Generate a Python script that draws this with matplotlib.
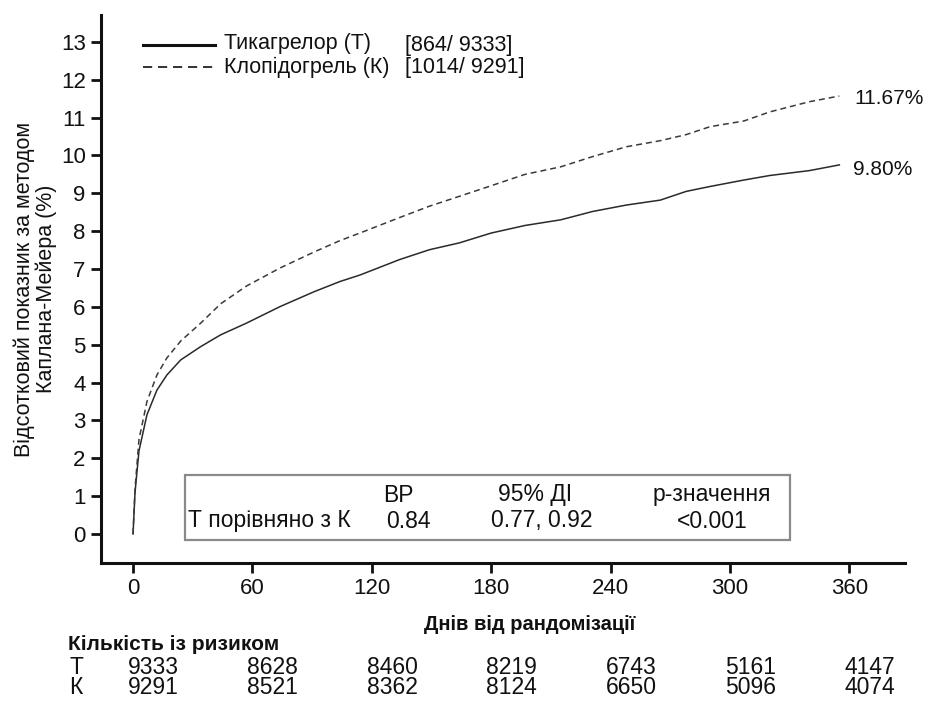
import matplotlib
matplotlib.use("Agg")
import matplotlib.pyplot as plt
from matplotlib.lines import Line2D
from matplotlib.patches import Rectangle
import matplotlib.transforms as mtransforms

plt.rcParams['font.family'] = ['Liberation Sans', 'DejaVu Sans']

# ---- data ----
days = [0, 1, 3, 7, 12, 17, 24, 34, 44, 57, 74, 91, 104, 114, 134, 149, 164,
        180, 197, 215, 231, 248, 265, 278, 290, 307, 320, 340, 355]
ticagrelor = [0, 1.1, 2.2, 3.15, 3.8, 4.2, 4.6, 4.95, 5.26, 5.57, 6.01, 6.4,
              6.67, 6.84, 7.25, 7.51, 7.69, 7.95, 8.15, 8.3, 8.52, 8.69, 8.82,
              9.05, 9.18, 9.35, 9.47, 9.6, 9.75]
clopidogrel = [0, 1.2, 2.5, 3.5, 4.2, 4.65, 5.1, 5.57, 6.08, 6.55, 7.03, 7.45,
               7.75, 7.95, 8.36, 8.66, 8.92, 9.2, 9.5, 9.7, 9.97, 10.23, 10.39,
               10.55, 10.76, 10.91, 11.15, 11.42, 11.57]
end_labels = ["9.80%", "11.67%"]
series_names = ["Тикагрелор (Т)", "Клопідогрель (К)"]
series_counts = ["[864/ 9333]", "[1014/ 9291]"]
x_ticks = [0, 60, 120, 180, 240, 300, 360]
y_ticks = list(range(0, 14))
risk_T = [9333, 8628, 8460, 8219, 6743, 5161, 4147]
risk_K = [9291, 8521, 8362, 8124, 6650, 5096, 4074]
stats_header = ["ВР", "95% ДІ", "р-значення"]
stats_row = ["Т порівняно з К", "0.84", "0.77, 0.92", "<0.001"]

W, H = 933, 704
fig = plt.figure(figsize=(W / 100, H / 100), dpi=100)
INK = '#111111'


def fx(x):
    return x / W


def fy(y):
    return 1 - y / H


ax = fig.add_axes([fx(101), fy(563), (905 - 101) / W, (563 - 15) / H])
ax.set_xlim(-16.1, 388)
ax.set_ylim(-0.766, 13.71)

ax.plot(days, ticagrelor, color='#2a2a2a', lw=1.1, ls='-')
ax.plot(days, clopidogrel, color='#3a3a3a', lw=1.1, ls=(0, (3.9, 2.6)))

for s in ['top', 'right']:
    ax.spines[s].set_visible(False)
for s in ['left', 'bottom']:
    ax.spines[s].set_linewidth(2.2)
    ax.spines[s].set_color(INK)

ax.set_xticks(x_ticks)
ax.set_yticks(y_ticks)
ax.tick_params(axis='both', direction='out', length=7, width=2.0,
               labelsize=16, colors=INK, pad=4)

ax.set_ylabel("Відсотковий показник за методом\nКаплана-Мейера (%)",
              fontsize=15.5, color=INK, labelpad=2.5, linespacing=1.05)

# end labels
ax.annotate(end_labels[0], xy=(days[-1], ticagrelor[-1]), xytext=(10, -3),
            textcoords='offset points', va='center', ha='left', fontsize=15,
            color=INK)
ax.annotate(end_labels[1], xy=(days[-1], clopidogrel[-1]), xytext=(11, -2),
            textcoords='offset points', va='center', ha='left', fontsize=15,
            color=INK)

# legend (drawn manually)
fig.add_artist(Line2D([fx(143), fx(215)], [fy(45), fy(45)], color=INK, lw=2.2,
                      transform=fig.transFigure))
fig.add_artist(Line2D([fx(143), fx(215)], [fy(67), fy(67)], color=INK, lw=1.2,
                      ls=(0, (5.5, 3.5)), transform=fig.transFigure))
fig.text(fx(224), fy(44), series_names[0], fontsize=15.5, va='center',
         ha='left', color=INK)
fig.text(fx(224), fy(67), series_names[1], fontsize=15.5, va='center',
         ha='left', color=INK)
fig.text(fx(405), fy(45), series_counts[0], fontsize=15.5, va='center',
         ha='left', color=INK)
fig.text(fx(405), fy(67), series_counts[1], fontsize=15.5, va='center',
         ha='left', color=INK)

# stats box
fig.add_artist(Rectangle((fx(185), fy(540)), (790 - 185) / W, (540 - 475) / H,
                         transform=fig.transFigure, fill=False,
                         edgecolor='#8a8a8a', lw=1.6))
fs = 16.5
fig.text(fx(398), fy(495), stats_header[0], fontsize=fs, ha='center', va='center', color=INK)
fig.text(fx(535), fy(495), stats_header[1], fontsize=fs, ha='center', va='center', color=INK)
fig.text(fx(712), fy(495), stats_header[2], fontsize=fs, ha='center', va='center', color=INK)
fig.text(fx(188), fy(521), stats_row[0], fontsize=fs, ha='left', va='center', color=INK)
fig.text(fx(408), fy(521), stats_row[1], fontsize=fs, ha='center', va='center', color=INK)
fig.text(fx(542), fy(521), stats_row[2], fontsize=fs, ha='center', va='center', color=INK)
fig.text(fx(712), fy(521), stats_row[3], fontsize=fs, ha='center', va='center', color=INK)

# x label
fig.text(fx(530), fy(625), "Днів від рандомізації", fontsize=14.5,
         fontweight='bold', ha='center', va='center', color=INK)

# number at risk
fig.text(fx(68), fy(645), "Кількість із ризиком", fontsize=15,
         fontweight='bold', ha='left', va='center', color=INK)
trans = mtransforms.blended_transform_factory(ax.transData, fig.transFigure)
fig.text(fx(69), fy(667), "Т", fontsize=fs, ha='left', va='center', color=INK)
fig.text(fx(69), fy(688), "К", fontsize=fs, ha='left', va='center', color=INK)
for d, t, k in zip(x_ticks, risk_T, risk_K):
    ax.text(d - 2.5, fy(667), str(t), transform=trans, fontsize=fs,
            ha='left', va='center', clip_on=False, color=INK)
    ax.text(d - 2.5, fy(688), str(k), transform=trans, fontsize=fs,
            ha='left', va='center', clip_on=False, color=INK)

fig.savefig("out.png", dpi=100)
